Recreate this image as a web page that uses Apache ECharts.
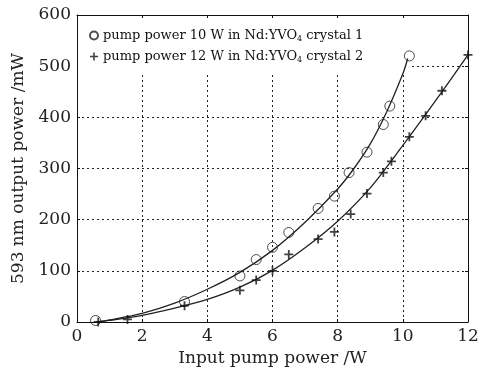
<!DOCTYPE html>
<html>
<head>
<meta charset="utf-8">
<script src="https://cdn.jsdelivr.net/npm/echarts@6/dist/echarts.min.js"></script>
<style>
  html, body { margin: 0; padding: 0; background: #fff; }
  #chart { width: 483px; height: 373px; }
</style>
</head>
<body>
<div id="chart"></div>
<script>
// measured points, crystal 1 (pump 10 W)
var pumpC1 = [0.57, 3.3, 5.0, 5.5, 6.0, 6.5, 7.4, 7.9, 8.35, 8.9, 9.4, 9.6, 10.2]
var outC1 = [3, 40, 90, 122, 146, 175, 222, 246, 292, 332, 386, 422, 520]

// measured points, crystal 2 (pump 12 W)
var pumpC2 = [0.65, 1.55, 3.3, 5.0, 5.5, 6.0, 6.5, 7.4, 7.9, 8.4, 8.9, 9.4, 9.65, 10.2, 10.7, 11.2, 12.0]
var outC2 = [0, 5, 32, 62, 82, 100, 132, 162, 176, 211, 251, 292, 314, 362, 403, 452, 522]

// fitted curves
var fitX1 = [0.6, 1, 2, 3, 4, 5, 6, 7, 8, 8.5, 9, 9.5, 10, 10.15]
var fitY1 = [0, 4, 17, 37, 64, 97, 140, 195, 260, 300, 348, 410, 485, 515]
var fitX2 = [0.6, 1, 2, 3, 4, 5, 6, 7, 8, 9, 10, 11, 12]
var fitY2 = [0, 3, 13, 27, 44, 68, 101, 145, 197, 262, 345, 432, 522]

var xTicks = [0, 2, 4, 6, 8, 10, 12]
var yTicks = [0, 100, 200, 300, 400, 500, 600]

function pairs(xs, ys) {
    var out = []
    for (var i = 0; i < xs.length; i++) out.push([xs[i], ys[i]])
    return out
}

var serif = '"DejaVu Serif", "Liberation Serif", serif'
var plusPath = 'path://M4,0H6V4H10V6H6V10H4V6H0V4H4Z'

var myChart = echarts.init(document.getElementById('chart'))

var gridLine = { show: true, lineStyle: { color: '#222', type: [2, 3], width: 1 } }
var frameLine = { show: true, onZero: false, lineStyle: { color: '#111', width: 1 } }
var innerTick = { show: true, inside: true, length: 3, lineStyle: { color: '#111' } }

var option = {
    backgroundColor: '#fff',
    animation: false,
    textStyle: { fontFamily: serif },
    grid: { left: 77, right: 15, top: 15, bottom: 51, containLabel: false, outerBoundsMode: 'none' },
    // white patch behind the legend, hides the grid lines there
    graphic: [{
        type: 'rect',
        z: 1,
        silent: true,
        shape: { x: 78, y: 19, width: 333, height: 53 },
        style: { fill: '#fff' }
    }],
    legend: {
        left: 84,
        top: 24,
        orient: 'vertical',
        itemGap: 7,
        itemWidth: 8,
        itemHeight: 8,
        data: [
            { name: 'c1', icon: 'circle' },
            { name: 'c2', icon: plusPath }
        ],
        formatter: function (name) {
            var n = name == 'c1' ? ['10', '1'] : ['12', '2']
            return '{a|pump power ' + n[0] + ' W in Nd:YVO}{s|4}{a| crystal ' + n[1] + '}'
        },
        textStyle: {
            rich: {
                a: { fontFamily: serif, fontSize: 13, color: '#111' },
                s: { fontFamily: serif, fontSize: 8, color: '#111', padding: [7, 0, 0, 0] }
            }
        }
    },
    xAxis: [{
        type: 'value',
        min: 0, max: 12, interval: 2,
        name: 'Input pump power /W',
        nameLocation: 'middle',
        nameGap: 27,
        nameTextStyle: { fontFamily: serif, fontSize: 17, color: '#222' },
        axisLine: frameLine,
        axisTick: innerTick,
        axisLabel: { fontFamily: serif, fontSize: 17, color: '#222', margin: 6,
            formatter: function (v) { return xTicks.indexOf(v) >= 0 ? String(v) : '' } },
        splitLine: gridLine
    }, {
        type: 'value', position: 'top',
        min: 0, max: 12, interval: 2,
        axisLine: frameLine,
        axisTick: innerTick,
        axisLabel: { show: false },
        splitLine: { show: false }
    }],
    yAxis: [{
        type: 'value',
        min: 0, max: 600, interval: 100,
        name: '593 nm output power /mW',
        nameLocation: 'middle',
        nameGap: 50,
        nameTextStyle: { fontFamily: serif, fontSize: 17, color: '#222' },
        axisLine: frameLine,
        axisTick: innerTick,
        axisLabel: { fontFamily: serif, fontSize: 17, color: '#222', margin: 6,
            formatter: function (v) { return yTicks.indexOf(v) >= 0 ? String(v) : '' } },
        splitLine: gridLine
    }, {
        type: 'value', position: 'right',
        min: 0, max: 600, interval: 100,
        axisLine: frameLine,
        axisTick: innerTick,
        axisLabel: { show: false },
        splitLine: { show: false }
    }],
    series: [{
        name: 'fit1',
        type: 'line',
        data: pairs(fitX1, fitY1),
        smooth: 0.3,
        showSymbol: false,
        lineStyle: { color: '#222', width: 1.3 },
        z: 3,
        silent: true
    }, {
        name: 'fit2',
        type: 'line',
        data: pairs(fitX2, fitY2),
        smooth: 0.3,
        showSymbol: false,
        lineStyle: { color: '#222', width: 1.3 },
        z: 3,
        silent: true
    }, {
        name: 'c1',
        type: 'scatter',
        data: pairs(pumpC1, outC1),
        symbol: 'circle',
        symbolSize: 10,
        z: 3,
        itemStyle: { color: 'rgba(255,255,255,0)', borderColor: '#222', borderWidth: 1 }
    }, {
        name: 'c2',
        type: 'scatter',
        data: pairs(pumpC2, outC2),
        symbol: plusPath,
        symbolSize: 9,
        z: 3,
        itemStyle: { color: '#111' }
    }]
}

myChart.setOption(option)
</script>
</body>
</html>
